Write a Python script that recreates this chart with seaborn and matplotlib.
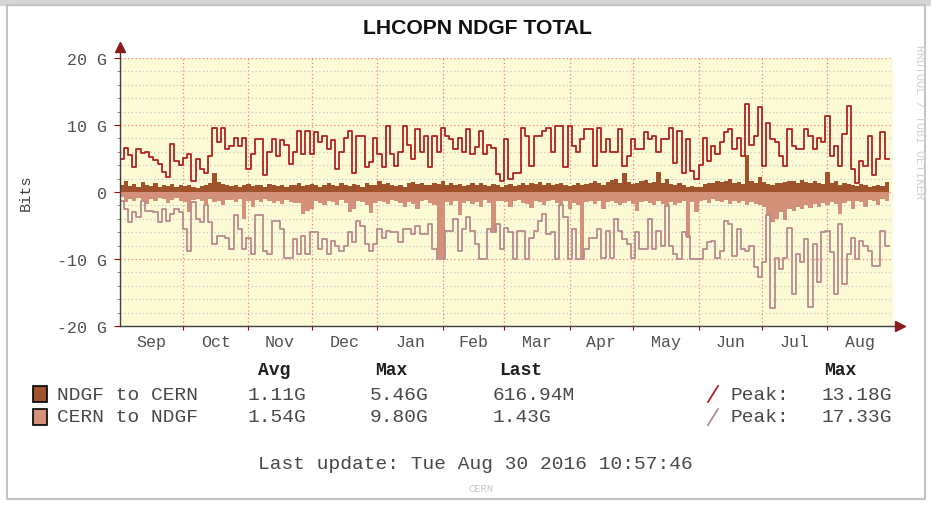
import numpy as np
import pandas as pd
import matplotlib
matplotlib.use("Agg")
import matplotlib.pyplot as plt
import seaborn as sns
from matplotlib.patches import Rectangle
from matplotlib.lines import Line2D

# ---------------- data (2-day steps starting 2015-09-01, values in G bits/s) ----------------
ndgf_to_cern = [
    1.0, 1.6, 0.9, 1.2, 0.8, 1.5, 1.0, 0.9, 1.3, 0.8, 1.1, 0.9, 1.2, 0.7, 1.0,
    0.9, 1.1, 0.8, 0.6, 0.9, 1.0, 1.3, 2.8, 1.5, 1.2, 1.0, 0.9, 1.1, 0.8, 1.0, 1.2,
    0.9, 1.1, 1.0, 0.8, 1.2, 1.0, 0.9, 1.1, 0.8, 1.0, 1.1, 1.3, 0.9, 1.0, 1.2,
    1.0, 0.8, 1.1, 1.3, 1.0, 0.9, 1.4, 1.1, 0.9, 1.2, 1.0, 0.8, 1.3, 1.1, 1.0,
    1.6, 1.2, 1.4, 1.0, 0.9, 1.1, 0.8, 1.3, 1.5, 1.2, 1.4, 1.1, 1.0, 1.3, 1.2,
    1.6, 1.1, 1.3, 1.0, 1.2, 0.9, 1.1, 1.4, 1.0, 1.3, 1.1, 0.9, 1.2, 1.0, 0.8,
    1.0, 1.2, 0.9, 1.1, 1.3, 1.0, 1.4, 1.2, 1.5, 1.1, 1.3, 1.0, 1.2, 1.4, 1.1,
    0.9, 1.1, 1.3, 1.0, 1.2, 1.4, 1.6, 1.3, 1.1, 1.5, 1.8, 2.0, 1.4, 2.8, 1.5,
    1.2, 1.4, 1.6, 1.8, 1.3, 1.5, 3.0, 1.4, 2.0, 1.2, 1.0, 1.3, 1.1, 0.8, 0.9, 0.7,
    0.8, 1.2, 1.3, 1.4, 1.6, 1.5, 1.7, 2.0, 1.4, 1.5, 1.2, 5.46, 1.6, 1.3, 2.2,
    1.5, 1.2, 1.0, 1.4, 1.3, 1.5, 1.7, 1.6, 1.4, 1.8, 1.5, 1.3, 1.6, 1.4, 1.2,
    3.0, 1.3, 1.6, 1.1, 1.4, 1.2, 1.0, 0.9, 1.2, 1.0, 0.8, 0.9, 1.1, 0.9, 1.5,
]
cern_to_ndgf = [
    0.8, 1.5, 1.0, 1.3, 0.9, 1.2, 1.8, 1.0, 1.4, 0.9, 1.1, 1.6, 1.2, 0.9, 1.3,
    1.5, 3.0, 1.2, 1.0, 1.4, 1.8, 1.1, 1.5, 1.3, 1.9, 1.2, 1.2, 1.5, 1.0, 4.0, 1.4,
    2.3, 1.2, 1.5, 1.1, 1.4, 1.6, 1.3, 1.8, 1.2, 1.5, 1.7, 1.7, 3.3, 2.8, 2.5,
    1.4, 1.6, 1.9, 1.3, 1.5, 2.0, 1.2, 1.6, 3.0, 2.6, 1.4, 1.5, 2.0, 3.2, 1.6,
    1.3, 1.5, 1.8, 1.2, 1.4, 1.6, 2.2, 1.5, 1.8, 2.5, 1.4, 1.2, 1.6, 2.0, 9.8,
    9.8, 1.5, 2.0, 1.3, 3.5, 1.6, 1.4, 1.8, 1.5, 2.3, 1.2, 1.6, 5.8, 1.4, 1.3,
    1.5, 2.2, 1.4, 1.2, 1.6, 1.8, 2.4, 1.3, 1.5, 2.0, 1.4, 1.2, 1.6, 1.9, 1.3,
    2.5, 1.6, 2.0, 9.8, 1.5, 1.3, 1.8, 1.4, 2.6, 1.5, 1.3, 1.6, 2.0, 1.7, 1.4,
    1.8, 2.8, 1.5, 1.3, 1.6, 2.0, 1.4, 1.8, 2.2, 1.5, 2.0, 1.6, 1.3, 6.8, 1.5, 3.0,
    1.4, 1.2, 1.6, 1.0, 1.3, 1.5, 1.2, 1.8, 1.4, 1.6, 1.3, 1.9, 1.5, 1.8, 2.0,
    2.2, 3.5, 4.5, 4.0, 3.0, 4.2, 2.5, 2.8, 2.2, 2.6, 2.0, 2.4, 1.8, 2.2, 1.6,
    2.0, 1.5, 1.8, 3.3, 1.6, 1.4, 2.5, 1.3, 1.5, 2.2, 1.2, 1.4, 2.0, 1.1, 1.3,
]
peak_ndgf_to_cern = [
    5.0, 6.5, 5.5, 3.8, 6.4, 5.8, 6.0, 5.2, 4.8, 4.2, 3.0, 2.3, 7.2, 4.6, 4.0,
    5.1, 5.6, 1.7, 5.0, 3.5, 2.9, 5.3, 9.6, 7.5, 9.6, 6.4, 6.8, 8.1, 6.9, 8.1,
    3.4, 5.7, 7.9, 7.9, 2.5, 6.0, 7.9, 5.4, 7.7, 7.0, 4.2, 6.0, 9.1, 5.7, 9.1,
    5.7, 8.9, 7.4, 8.4, 6.4, 7.7, 3.5, 6.0, 8.0, 9.1, 2.9, 8.4, 8.4, 3.7, 4.5,
    8.1, 5.7, 3.7, 9.9, 5.7, 3.9, 6.0, 9.9, 7.0, 5.0, 9.4, 6.0, 8.4, 3.7, 8.4,
    6.0, 9.6, 8.4, 7.9, 6.4, 8.1, 6.0, 9.4, 5.7, 6.7, 9.1, 5.7, 7.0, 6.5, 2.7,
    1.7, 7.9, 1.9, 2.9, 2.9, 9.6, 8.4, 3.9, 8.4, 8.4, 9.1, 9.6, 6.0, 9.8, 9.9,
    3.7, 9.9, 6.9, 6.0, 7.9, 9.4, 9.4, 3.9, 9.6, 6.0, 7.9, 6.0, 6.0, 9.4, 3.9,
    5.4, 7.9, 6.4, 6.4, 8.9, 7.9, 8.4, 6.0, 7.9, 7.9, 9.6, 4.4, 9.1, 2.9, 7.9,
    3.2, 1.9, 4.0, 8.0, 4.6, 6.9, 5.7, 7.4, 8.9, 9.4, 6.4, 8.1, 5.4, 13.18, 7.0,
    8.4, 12.7, 3.9, 10.3, 7.9, 7.4, 5.4, 3.9, 9.4, 6.9, 6.4, 6.4, 9.4, 8.4, 6.4,
    8.1, 7.4, 11.4, 5.4, 6.9, 3.9, 8.6, 12.9, 3.4, 1.4, 4.6, 3.9, 8.4, 2.5, 5.0, 8.9, 5.0,
]
peak_cern_to_ndgf = [
    1.3, 2.5, 4.5, 3.0, 3.8, 1.3, 2.8, 2.8, 3.0, 4.5, 2.5, 4.3, 3.3, 2.5, 3.0,
    5.5, 8.8, 1.5, 4.0, 4.5, 2.0, 4.5, 7.8, 6.5, 6.5, 6.8, 8.5, 3.5, 5.5, 8.5,
    6.8, 9.3, 3.5, 3.5, 8.8, 9.3, 4.3, 4.3, 5.5, 9.8, 9.8, 7.0, 9.3, 6.5, 9.3,
    6.0, 6.0, 8.5, 7.0, 9.3, 7.3, 8.0, 8.8, 8.0, 6.0, 7.5, 4.3, 5.0, 7.8, 8.8,
    7.8, 5.5, 6.8, 5.8, 6.0, 6.0, 7.5, 5.5, 5.5, 6.3, 5.0, 6.3, 6.3, 4.8, 8.5,
    10.0, 10.0, 5.8, 5.8, 4.0, 8.8, 5.5, 3.8, 5.8, 7.8, 10.0, 10.0, 5.5, 6.0, 4.8,
    8.5, 5.3, 6.0, 10.0, 5.8, 5.8, 10.0, 6.8, 5.8, 4.3, 3.3, 6.3, 6.0, 10.0, 2.0,
    3.8, 10.0, 5.5, 10.0, 10.0, 8.5, 6.8, 6.8, 5.5, 9.8, 5.8, 9.8, 4.0, 5.8, 7.0,
    7.8, 9.8, 6.0, 8.5, 8.5, 4.0, 8.5, 5.8, 8.0, 2.0, 8.0, 9.3, 10.0, 6.0, 6.5,
    10.0, 10.0, 10.0, 8.5, 7.5, 7.3, 9.8, 8.8, 4.3, 4.8, 9.5, 5.5, 8.5, 8.8, 8.0,
    11.2, 12.7, 10.5, 3.5, 17.33, 9.8, 11.5, 9.8, 5.3, 15.2, 9.3, 10.5, 7.0, 17.2, 7.8,
    13.5, 6.0, 5.8, 9.0, 15.2, 4.8, 13.7, 9.3, 6.8, 10.0, 7.3, 8.0, 8.8, 11.0, 11.0, 5.8, 8.0,
]
STEP_DAYS = 2
month_names = ["Sep", "Oct", "Nov", "Dec", "Jan", "Feb", "Mar", "Apr", "May", "Jun", "Jul", "Aug"]
month_starts = [0, 30, 61, 91, 122, 153, 182, 213, 243, 274, 304, 335, 366]
ytick_vals = [-20, -10, 0, 10, 20]
ytick_labels = ["-20 G", "-10 G", "0", "10 G", "20 G"]
legend_rows = [
    ("NDGF to CERN", "1.11G", "5.46G", "616.94M", "13.18G"),
    ("CERN to NDGF", "1.54G", "9.80G", "1.43G", "17.33G"),
]

# ---------------- style ----------------
W, H = 931, 506
MONO = ["Liberation Mono", "DejaVu Sans Mono"]
C_AREA1 = "#a0522d"
C_AREA2 = "#d4917a"
C_PEAK1 = "#b22222"
C_PEAK2 = "#b98a8f"
C_BG = "#fdfbd5"
C_MAJ = "#f08080"
C_MIN = "#c8c8c8"
C_TXT = "#484848"
FS_LEG = 14
FS_TICK = 12


def px(x, y):
    return x / W, 1 - y / H


def stepped(values, sign=1.0):
    v = np.asarray(values, dtype=float) * sign
    d = np.arange(len(v)) * STEP_DAYS
    d = np.append(d, d[-1] + STEP_DAYS)
    v = np.append(v, v[-1])
    return d, v


fig = plt.figure(figsize=(W / 100, H / 100), dpi=100, facecolor="white")

# frame
fig.patches.append(Rectangle(px(0, 6), 1, 6 / H, transform=fig.transFigure, color="#d6d6d6", zorder=0))
fig.patches.append(Rectangle(px(7, 500), (925 - 7) / W, (500 - 6) / H, transform=fig.transFigure,
                             fill=False, edgecolor="#c4c4c4", lw=1.5, zorder=1))

x0, x1, yt, yb = 119.5, 893, 59, 327
ax = fig.add_axes([x0 / W, 1 - yb / H, (x1 - x0) / W, (yb - yt) / H])
ax.set_facecolor(C_BG)
ax.set_xlim(0, 366)
ax.set_ylim(-20, 20)
ax.set_axisbelow(True)

# areas
d1, v1 = stepped(ndgf_to_cern, 1)
d2, v2 = stepped(cern_to_ndgf, -1)
ax.fill_between(d2, 0, v2, step="post", color=C_AREA2, lw=0, zorder=2)
ax.fill_between(d1, 0, v1, step="post", color=C_AREA1, lw=0, zorder=2)

# peak lines via seaborn
dp1, vp1 = stepped(peak_ndgf_to_cern, 1)
dp2, vp2 = stepped(peak_cern_to_ndgf, -1)
df1 = pd.DataFrame({"day": dp1, "G": vp1})
df2 = pd.DataFrame({"day": dp2, "G": vp2})
sns.lineplot(data=df2, x="day", y="G", ax=ax, color=C_PEAK2, lw=1.3, drawstyle="steps-post",
             estimator=None, sort=False, zorder=3)
sns.lineplot(data=df1, x="day", y="G", ax=ax, color=C_PEAK1, lw=1.3, drawstyle="steps-post",
             estimator=None, sort=False, zorder=3)
ax.set_xlabel("")
ax.set_ylabel("")

# grid
mids = [(a + b) / 2 for a, b in zip(month_starts[:-1], month_starts[1:])]
ax.set_xticks(mids)
ax.set_xticklabels(month_names, fontfamily=MONO, fontsize=FS_TICK, color="#505050")
ax.set_xticks(month_starts[1:-1], minor=True)
ax.set_yticks(ytick_vals)
ax.set_yticklabels(ytick_labels, fontfamily=MONO, fontsize=FS_TICK, color="#505050")
ax.set_yticks(np.arange(-20, 21, 2), minor=True)
ax.tick_params(axis="x", which="major", length=0, pad=6)
ax.tick_params(axis="x", which="minor", length=3, color="#b00000", width=0.8)
ax.tick_params(axis="y", which="major", length=4, color="#b00000", width=0.8, pad=5)
ax.tick_params(axis="y", which="minor", length=2, color="#808080", width=0.6)
dot = (0, (1, 2))
ax.grid(which="minor", axis="y", color=C_MIN, lw=0.9, ls=dot)
ax.grid(which="major", axis="y", color=C_MAJ, lw=0.9, ls=dot)
ax.grid(which="minor", axis="x", color=C_MAJ, lw=0.9, ls=dot)
ax.grid(which="major", axis="x", visible=False)
for s in ax.spines.values():
    s.set_visible(False)

# axes with arrows
ax.plot([0, 0], [-20, 21.2], color="#404040", lw=1.0, clip_on=False, zorder=5)
ax.plot([0, 368.5], [-20, -20], color="#404040", lw=1.0, clip_on=False, zorder=5)
ax.plot([0], [21.6], marker="^", ms=7, color="#8b1a1a", clip_on=False, zorder=6)
ax.plot([369.5], [-20], marker=">", ms=7, color="#8b1a1a", clip_on=False, zorder=6)

# texts
fig.text(*px(477, 28), "LHCOPN NDGF TOTAL", ha="center", va="center", fontsize=15.2,
         fontweight="bold", family=["Liberation Sans", "DejaVu Sans"], color="#111111")
fig.text(*px(26, 193), "Bits", rotation=90, ha="center", va="center", fontsize=11,
         family=MONO, color="#404040")
fig.text(*px(919, 122), "RRDTOOL / TOBI OETIKER", rotation=270, ha="center", va="center",
         fontsize=8.5, family=MONO, color="#d2d2d2")

hy = 371
for x, t in [(274, "Avg"), (391, "Max"), (521, "Last"), (840, "Max")]:
    fig.text(*px(x, hy), t, ha="center", va="center", fontsize=13, fontweight="bold",
             family=MONO, color="#202020")

for i, (name, avg, mx, last, peak) in enumerate(legend_rows):
    y = 395 + 23 * i
    col = [C_AREA1, C_AREA2][i]
    pcol = [C_PEAK1, C_PEAK2][i]
    fig.patches.append(Rectangle(px(33, y + 8), 14 / W, 16 / H, transform=fig.transFigure,
                                 facecolor=col, edgecolor="black", lw=1.2))
    for xx, t in [(57, name), (248, avg), (370, mx), (493, last), (730, "Peak:"), (822, peak)]:
        fig.text(*px(xx, y), t, ha="left", va="center", fontsize=FS_LEG, family=MONO, color=C_TXT)
    (lx0, ly0), (lx1, ly1) = px(708, y + 8), px(718, y - 8)
    fig.lines.append(Line2D([lx0, lx1], [ly0, ly1], transform=fig.transFigure, color=pcol, lw=1.3))

fig.text(*px(475, 465), "Last update: Tue Aug 30 2016 10:57:46", ha="center", va="center",
         fontsize=FS_LEG, family=MONO, color=C_TXT)
fig.text(*px(481, 489), "CERN", ha="center", va="center", fontsize=7.5, family=MONO, color="#c8c8c8")

fig.savefig("out.png", dpi=100, facecolor="white")
